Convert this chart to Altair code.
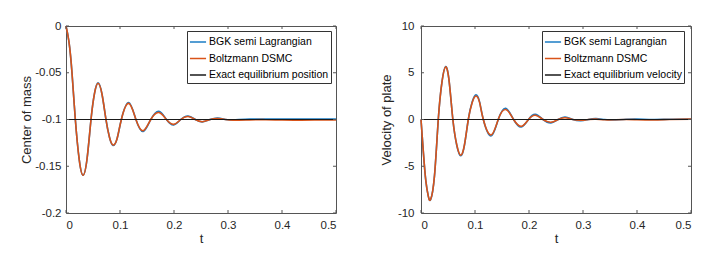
import altair as alt
import pandas as pd

# ---------------- data ----------------
t_pos = [0, 0.0055, 0.0111, 0.0173, 0.0245, 0.0315, 0.039, 0.0463, 0.0528, 0.0593,
         0.0667, 0.074, 0.0805, 0.087, 0.0948, 0.1025, 0.116, 0.1295, 0.143, 0.157,
         0.172, 0.186, 0.1995, 0.2125, 0.226, 0.2395, 0.2525, 0.267, 0.281, 0.295,
         0.31, 0.34, 0.37, 0.40, 0.43, 0.46, 0.5]
pos_bgk = [0, -0.017, -0.05, -0.1, -0.143, -0.1597, -0.142, -0.1, -0.072, -0.0608,
           -0.073, -0.1, -0.119, -0.1278, -0.12, -0.1, -0.0818, -0.1, -0.1128, -0.1,
           -0.0912, -0.1, -0.1058, -0.1, -0.0962, -0.1, -0.1025, -0.1, -0.0984, -0.1,
           -0.1004, -0.0996, -0.0995, -0.0996, -0.0995, -0.0995, -0.0995]
pos_dsmc = [0, -0.017, -0.05, -0.1, -0.143, -0.1597, -0.142, -0.1, -0.072, -0.0612,
            -0.073, -0.1, -0.119, -0.1272, -0.12, -0.1, -0.0828, -0.1, -0.1120, -0.1,
            -0.0925, -0.1, -0.1052, -0.1, -0.0968, -0.1, -0.1024, -0.1, -0.0990, -0.1,
            -0.1008, -0.1004, -0.1002, -0.1006, -0.1007, -0.1006, -0.1006]

t_vel = [0, 0.0045, 0.009, 0.0135, 0.0178, 0.025, 0.032, 0.0388, 0.0456, 0.0523,
         0.059, 0.0662, 0.0734, 0.0805, 0.0876, 0.0947, 0.1018, 0.1086, 0.1154,
         0.1296, 0.143, 0.157, 0.1715, 0.1857, 0.199, 0.2117, 0.226, 0.2407, 0.254,
         0.267, 0.281, 0.296, 0.31, 0.324, 0.34, 0.36, 0.38, 0.40, 0.43, 0.46, 0.5]
vel_bgk = [0, -3.6, -6.6, -8.2, -8.56, -6.0, 0, 4.0, 5.66, 4.0,
           0, -2.75, -3.88, -2.75, 0, 1.86, 2.63, 1.86, 0,
           -1.76, 0, 1.2, 0, -0.8, 0, 0.55, 0, -0.36, 0,
           0.26, 0, -0.14, 0, 0.09, 0, -0.06, 0.02, 0.05, 0.0, 0.03, 0.05]
vel_dsmc = [0, -3.6, -6.6, -8.2, -8.54, -6.0, 0, 4.0, 5.62, 4.0,
            0, -2.7, -3.82, -2.7, 0, 1.8, 2.52, 1.8, 0,
            -1.66, 0, 1.06, 0, -0.72, 0, 0.45, 0, -0.3, 0,
            0.18, 0, -0.08, 0, 0.04, -0.03, -0.02, 0.0, -0.02, -0.04, 0.0, 0.04]

x_ticks = [0, 0.1, 0.2, 0.3, 0.4, 0.5]
pos_ticks = [0, -0.05, -0.1, -0.15, -0.2]
vel_ticks = [10, 5, 0, -5, -10]

pos_labels = ["BGK semi Lagrangian", "Boltzmann DSMC", "Exact equilibrium position"]
vel_labels = ["BGK semi Lagrangian", "Boltzmann DSMC", "Exact equilibrium velocity"]

# ---------------- styling ----------------
BLUE = "#1B7CC4"
ORANGE = "#D95319"
BLACK = "#1a1a1a"
AX = "#555555"
TXT = "#262626"
FONT = "Liberation Sans"
W, H = 270, 187


def panel(t, s1, s2, eq_value, labels, ydom, yticks, ytitle, ext, lpad, tpad):
    cscale = alt.Scale(domain=labels, range=[BLUE, ORANGE, BLACK])
    legend = alt.Legend(orient="none", legendX=121, legendY=5, title=None,
                        strokeColor="#333333", fillColor="white", padding=2,
                        symbolType="stroke", symbolSize=260, symbolStrokeWidth=1.5,
                        labelFontSize=10.5, labelFont=FONT, labelColor="#000000",
                        labelOffset=2, rowPadding=1.5, labelLimit=300)
    xenc = alt.X("t:Q", scale=alt.Scale(domain=[0, 0.5], nice=False, zero=False),
                 axis=alt.Axis(values=x_ticks, labelExpr="toString(datum.value)",
                               title="t", labelPadding=6, titlePadding=2))
    yenc = alt.Y("v:Q", scale=alt.Scale(domain=ydom, nice=False, zero=False),
                 axis=alt.Axis(values=yticks, labelExpr="toString(datum.value)",
                               title=ytitle, labelPadding=lpad, titlePadding=tpad,
                               minExtent=ext, maxExtent=ext))
    cenc = alt.Color("series:N", scale=cscale, legend=legend)

    d1 = pd.DataFrame({"t": t, "v": s1, "series": labels[0]})
    d2 = pd.DataFrame({"t": t, "v": s2, "series": labels[1]})
    d3 = pd.DataFrame({"t": [0, 0.5], "v": [eq_value, eq_value], "series": labels[2]})

    l1 = alt.Chart(d1).mark_line(interpolate="natural", strokeWidth=1.6).encode(x=xenc, y=yenc, color=cenc)
    l2 = alt.Chart(d2).mark_line(interpolate="natural", strokeWidth=1.6).encode(x="t:Q", y="v:Q", color=cenc)
    l3 = alt.Chart(d3).mark_line(strokeWidth=1.0).encode(x="t:Q", y="v:Q", color=cenc)

    xt = pd.DataFrame({"t": x_ticks})
    yt = pd.DataFrame({"v": yticks})
    tb = alt.Chart(xt).mark_rule(color=AX, strokeWidth=1).encode(x="t:Q", y=alt.value(H), y2=alt.value(H - 3))
    tt = alt.Chart(xt).mark_rule(color=AX, strokeWidth=1).encode(x="t:Q", y=alt.value(0), y2=alt.value(3))
    tl = alt.Chart(yt).mark_rule(color=AX, strokeWidth=1).encode(y="v:Q", x=alt.value(0), x2=alt.value(3))
    tr = alt.Chart(yt).mark_rule(color=AX, strokeWidth=1).encode(y="v:Q", x=alt.value(W), x2=alt.value(W - 3))

    return alt.layer(l1, l2, l3, tb, tt, tl, tr).properties(width=W, height=H)


left = panel(t_pos, pos_bgk, pos_dsmc, -0.1, pos_labels, [-0.2, 0], pos_ticks,
             "Center of mass", 30, 5, 3)
right = panel(t_vel, vel_bgk, vel_dsmc, 0, vel_labels, [-10, 10], vel_ticks,
              "Velocity of plate", 24, 7, 4)

chart = alt.hconcat(left, right, spacing=39).resolve_scale(color="independent").properties(
    padding={"left": 11, "top": 11, "right": 5, "bottom": 5}
).configure_view(stroke=AX, strokeWidth=1).configure_axis(
    grid=False, domain=False, tickSize=0, labelFont=FONT, titleFont=FONT,
    labelFontSize=11.5, titleFontSize=13, labelColor=TXT, titleColor=TXT,
    titleFontWeight="normal"
)

chart.save("out.html", embed_options={"renderer": "svg", "actions": False})
